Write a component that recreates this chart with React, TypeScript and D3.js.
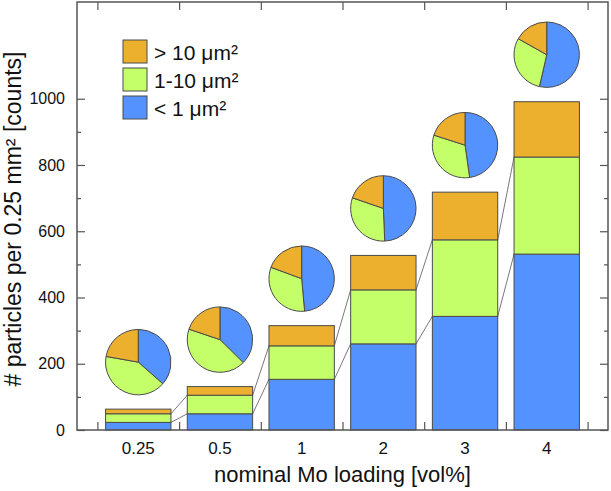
import { useRef, useEffect } from 'react'
import * as d3 from 'd3'

// nominal Mo loading categories
const categories = ['0.25', '0.5', '1', '2', '3', '4']
// particle counts per size class (stacked bottom -> top)
const small = [23, 49, 153, 260, 343, 531]   // < 1 µm²
const medium = [26, 56, 101, 163, 231, 293]  // 1-10 µm²
const large = [14, 26, 61, 104, 144, 167]    // > 10 µm²

const yMajor = [0, 200, 400, 600, 800, 1000]
const yMinor = [100, 300, 500, 700, 900]

const legendLabels = ['> 10 μm²', '1-10 μm²', '< 1 μm²']

const FONT = "'Liberation Sans', Arial, Helvetica, sans-serif"
const C_SMALL = '#5493ff'
const C_MED = '#c4ff6a'
const C_LARGE = '#ecb02e'
const STROKE = '#4a4a4a'

export default function App() {
  const ref = useRef<SVGSVGElement | null>(null)

  useEffect(() => {
    if (!ref.current) return
    const svg = d3.select(ref.current)
    svg.selectAll('*').remove()

    const W = 611, H = 491
    const left = 77, right = 608, top = 2, bottom = 430
    svg.attr('width', W).attr('height', H)

    const x = d3.scaleLinear().domain([0.25, 6.75]).range([left, right])
    const y = d3.scaleLinear().domain([0, 1292]).range([bottom, top])
    const barW = 0.8
    const colors = [C_SMALL, C_MED, C_LARGE]

    const rows = categories.map((c, i) => ({ idx: i + 1, cat: c, small: small[i], medium: medium[i], large: large[i] }))
    const stack = d3.stack<any>().keys(['small', 'medium', 'large'])
    const layers = stack(rows)

    // connector lines between segment tops (< 1 and 1-10 only)
    const g = svg.append('g')
    layers.slice(0, 2).forEach(layer => {
      for (let i = 0; i < layer.length - 1; i++) {
        g.append('line')
          .attr('x1', x(i + 1 + barW / 2)).attr('y1', y(layer[i][1]))
          .attr('x2', x(i + 2 - barW / 2)).attr('y2', y(layer[i + 1][1]))
          .attr('stroke', '#555').attr('stroke-width', 0.8)
      }
    })

    // bars
    layers.forEach((layer, li) => {
      g.selectAll(null).data(layer).enter().append('rect')
        .attr('x', (_, i) => x(i + 1 - barW / 2))
        .attr('width', x(barW) - x(0))
        .attr('y', d => y(d[1]))
        .attr('height', d => y(d[0]) - y(d[1]))
        .attr('fill', colors[li])
        .attr('stroke', STROKE).attr('stroke-width', 1)
    })

    // pies above bars
    const pie = d3.pie<number>().sort(null).value(d => d)
    const r = 32.7
    const arc = d3.arc<d3.PieArcDatum<number>>().innerRadius(0).outerRadius(r)
    rows.forEach(row => {
      const total = row.small + row.medium + row.large
      const pg = g.append('g')
        .attr('transform', `translate(${x(row.idx)},${y(total) - 47})`)
      pg.selectAll('path').data(pie([row.small, row.medium, row.large])).enter().append('path')
        .attr('d', arc)
        .attr('fill', (_, k) => colors[k])
        .attr('stroke', STROKE).attr('stroke-width', 1)
    })

    // axes
    const styleAxis = (sel: any) => {
      sel.select('.domain').remove()
      sel.selectAll('line').attr('stroke', '#555').attr('stroke-width', 1.2)
      sel.selectAll('text').attr('font-family', FONT).attr('font-size', 16).attr('fill', '#111')
    }
    svg.append('g').attr('transform', `translate(${left},0)`)
      .call(d3.axisLeft(y).tickValues(yMajor).tickSize(-8).tickPadding(12).tickFormat(d3.format('d')))
      .call(styleAxis)
    svg.append('g').attr('transform', `translate(${left},0)`)
      .call(d3.axisLeft(y).tickValues(yMinor).tickSize(-4).tickFormat(() => ''))
      .call(styleAxis)
    svg.append('g').attr('transform', `translate(${right},0)`)
      .call(d3.axisRight(y).tickValues(yMajor).tickSize(-8).tickFormat(() => ''))
      .call(styleAxis)
    svg.append('g').attr('transform', `translate(${right},0)`)
      .call(d3.axisRight(y).tickValues(yMinor).tickSize(-4).tickFormat(() => ''))
      .call(styleAxis)
    const bounds = d3.range(0.5, 7, 1)
    svg.append('g').attr('transform', `translate(0,${bottom})`)
      .call(d3.axisBottom(x).tickValues(bounds).tickSize(-8).tickFormat(() => ''))
      .call(styleAxis)
    svg.append('g').attr('transform', `translate(0,${top})`)
      .call(d3.axisTop(x).tickValues(bounds).tickSize(-8).tickFormat(() => ''))
      .call(styleAxis)

    // category labels
    svg.append('g').selectAll('text').data(rows).enter().append('text')
      .attr('x', d => x(d.idx)).attr('y', 454)
      .attr('text-anchor', 'middle').attr('font-family', FONT).attr('font-size', 17).attr('fill', '#111')
      .text(d => d.cat)

    // frame
    svg.append('rect').attr('x', left).attr('y', top)
      .attr('width', right - left).attr('height', bottom - top)
      .attr('fill', 'none').attr('stroke', '#555').attr('stroke-width', 1.5)

    // axis titles
    svg.append('text')
      .attr('transform', `translate(21,${(top + bottom) / 2 + 3}) rotate(-90)`)
      .attr('text-anchor', 'middle').attr('font-family', FONT).attr('font-size', 23).attr('fill', '#111')
      .text('# particles per 0.25 mm² [counts]')
    svg.append('text')
      .attr('x', (left + right) / 2).attr('y', 482)
      .attr('text-anchor', 'middle').attr('font-family', FONT).attr('font-size', 22).attr('fill', '#111')
      .text('nominal Mo loading [vol%]')

    // legend
    const legendColors = [C_LARGE, C_MED, C_SMALL]
    const lg = svg.append('g')
    legendLabels.forEach((lab, i) => {
      lg.append('rect').attr('x', 123).attr('y', 40 + i * 28)
        .attr('width', 24).attr('height', 23)
        .attr('fill', legendColors[i]).attr('stroke', STROKE).attr('stroke-width', 1)
      lg.append('text').attr('x', 154).attr('y', 40 + i * 28 + 20)
        .attr('font-family', FONT).attr('font-size', 21).attr('fill', '#111')
        .text(lab)
    })
  }, [])

  return (
    <svg ref={ref} width={611} height={491}
      style={{ position: 'absolute', left: 0, top: 0, display: 'block', background: '#fff' }} />
  )
}
